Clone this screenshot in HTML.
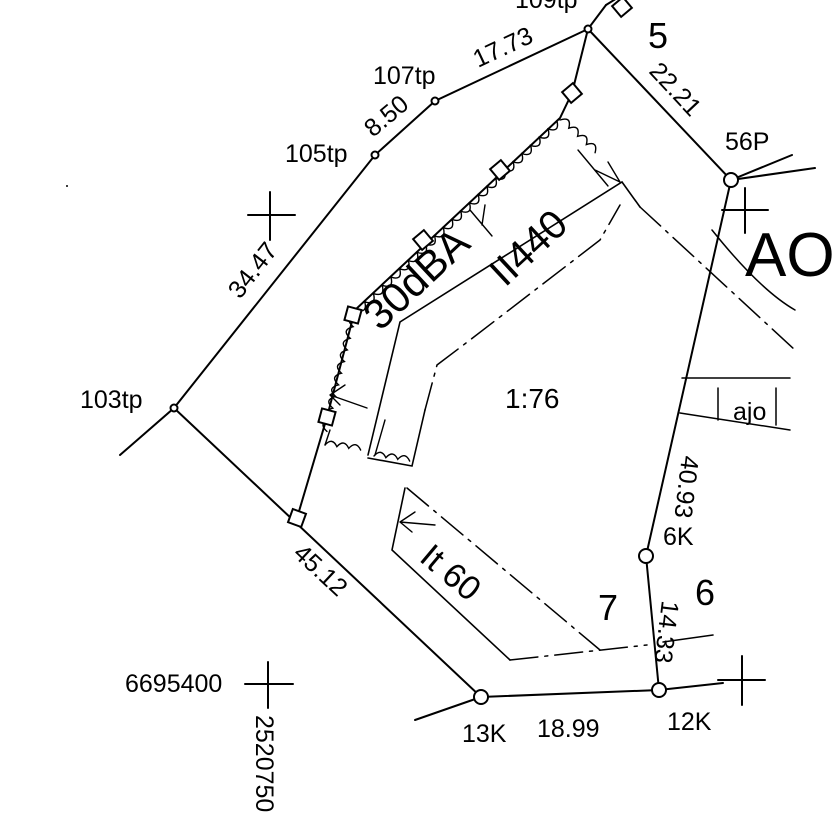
<!DOCTYPE html>
<html><head><meta charset="utf-8"><style>
html,body{margin:0;padding:0;background:#fff;}
svg{display:block}
text{font-family:"Liberation Sans",sans-serif;fill:#000;}
</style></head><body>
<svg width="836" height="834" viewBox="0 0 836 834" xmlns="http://www.w3.org/2000/svg">
<g stroke="#000" stroke-width="2" fill="none" stroke-linecap="round">
<polyline points="120,455 174,408 375,155 435,101 588,29 606,5"/>
<polyline points="588,29 731,180 646,556 659,690 481,697 174,408"/>
<line x1="659" y1="690" x2="723" y2="683"/>
<line x1="481" y1="697" x2="415" y2="720"/>
<line x1="731" y1="180" x2="792" y2="155"/>
<line x1="731" y1="180" x2="815" y2="168"/>
<path d="M248,215H295M270,192V240"/>
<path d="M722,210H768M745,188V233"/>
<path d="M245,684H293M268,662V708"/>
<path d="M718,680H765M742,656V705"/>
<polyline points="297,518 327,417 355,310 560,118 572,93 588,29"/>
<line x1="606" y1="5" x2="622" y2="-5"/>
<path d="M0,0 q6,11 12,0 q6,11 12,0 q6,11 12,0 q6,11 12,0 q6,11 12,0 q6,11 12,0 q6,11 12,0 q6,11 12,0 q6,11 12,0 q6,11 12,0 q6,11 12,0 q6,11 12,0 q6,11 12,0 q6,11 12,0 q6,11 12,0 q6,11 12,0 q6,11 12,0 q6,11 12,0 q6,11 12,0 q6,11 12,0 q6,11 12,0 q6,11 12,0 q6,11 12,0" stroke-width="1.4" transform="translate(356,310) rotate(-43.3)"/>
<path d="M0,0 q6,-11 12,0 q6,-11 12,0 q6,-11 12,0 q6,-11 12,0" stroke-width="1.4" transform="translate(560,120) rotate(43)"/>
<path d="M0,0 q6,11 12,0 q6,11 12,0 q6,11 12,0 q6,11 12,0 q6,11 12,0 q6,11 12,0 q6,11 12,0 q6,11 12,0 q6,11 12,0 q6,11 12,0" stroke-width="1.4" transform="translate(356,315) rotate(104)"/>
<path d="M0,0 q6,-9 12,0 q6,-9 12,0 q6,-9 12,0" stroke-width="1.4" transform="translate(325,445) rotate(8)"/>
<path d="M0,0 q6,-9 12,0 q6,-9 12,0 q6,-9 12,0" stroke-width="1.4" transform="translate(374,456) rotate(8)"/>
<line x1="325" y1="445" x2="330" y2="430" stroke-width="1.4"/>
<polyline points="368,455 400,322 622,182 640,207" stroke-width="1.6"/>
<polyline points="368,458 412,466 425,410" stroke-width="1.6"/>
<path d="M425,410 L437,365 L470,340 L600,240 L620,205" stroke-width="1.5" stroke-dasharray="28,7,3,7"/>
<path d="M640,207 L795,350" stroke-width="1.5" stroke-dasharray="28,7,3,7"/>
<path d="M330,395 L367,408 M330,395 L345,385 M330,395 L340,405" stroke-width="1.4"/>
<path d="M470,210 L492,236 M485,205 L482,225" stroke-width="1.4"/>
<path d="M578,150 L608,186 M620,182 L595,170 M620,182 L608,162" stroke-width="1.4"/>
<path d="M375,455 L385,420" stroke-width="1.4"/>
<polyline points="405,488 392,550 510,660" stroke-width="1.6"/>
<path d="M510,660 L647,645" stroke-width="1.5" stroke-dasharray="28,7,3,7"/>
<path d="M407,488 L600,650" stroke-width="1.5" stroke-dasharray="28,7,3,7"/>
<path d="M400,522 L435,525 M400,522 L415,512 M400,522 L412,532" stroke-width="1.4"/>
<path d="M663,642 L713,635" stroke-width="1.5"/>
<path d="M682,378 H790 M680,413 L790,430 M718,388 V420 M776,388 V425" stroke-width="1.5"/>
<path d="M712,230 Q760,290 795,310" stroke-width="1.5"/>
</g>
<g stroke="#000" stroke-width="2" fill="#fff">
<circle cx="731" cy="180" r="7"/>
<circle cx="646" cy="556" r="7"/>
<circle cx="659" cy="690" r="7"/>
<circle cx="481" cy="697" r="7"/>
<circle cx="174" cy="408" r="3.5"/>
<circle cx="375" cy="155" r="3.5"/>
<circle cx="435" cy="101" r="3.5"/>
<circle cx="588" cy="29" r="3.5"/>
<rect x="290" y="511" width="14" height="14" transform="rotate(20 297 518)"/>
<rect x="320" y="410" width="14" height="14" transform="rotate(15 327 417)"/>
<rect x="346" y="308" width="14" height="14" transform="rotate(15 353 315)"/>
<rect x="416" y="233" width="14" height="14" transform="rotate(-40 423 240)"/>
<rect x="493" y="163" width="14" height="14" transform="rotate(-40 500 170)"/>
<rect x="565" y="86" width="14" height="14" transform="rotate(-40 572 93)"/>
<rect x="615" y="0" width="14" height="14" transform="rotate(-40 622 7)"/>
</g>
<g font-size="25">
<text x="80" y="408">103tp</text>
<text x="285" y="162">105tp</text>
<text x="373" y="84">107tp</text>
<text x="515" y="8">109tp</text>
<text x="648" y="48" font-size="36">5</text>
<text x="725" y="150">56P</text>
<text x="745" y="276" font-size="62">AO</text>
<text x="505" y="408" font-size="28">1:76</text>
<text x="733" y="420">ajo</text>
<text x="663" y="545">6K</text>
<text x="695" y="605" font-size="36">6</text>
<text x="598" y="620" font-size="36">7</text>
<text x="125" y="692">6695400</text>
<text x="462" y="742">13K</text>
<text x="537" y="737">18.99</text>
<text x="667" y="730">12K</text>
<text transform="translate(256,715) rotate(90)">2520750</text>
<text transform="translate(240,300) rotate(-52)">34.47</text>
<text transform="translate(373,138) rotate(-40)">8.50</text>
<text transform="translate(478,68) rotate(-25)">17.73</text>
<text transform="translate(648,72) rotate(47)">22.21</text>
<text transform="translate(682,455) rotate(97)">40.93</text>
<text transform="translate(662,600) rotate(97)">14.33</text>
<text transform="translate(292,555) rotate(43)">45.12</text>
<text transform="translate(380,332) rotate(-43)" font-size="42">30dBA</text>
<text transform="translate(505,288) rotate(-43)" font-size="40">II440</text>
<text transform="translate(418,560) rotate(40)" font-size="34">It 60</text>
</g>
<circle cx="67" cy="186" r="1" fill="#000"/>
</svg>
</body></html>
